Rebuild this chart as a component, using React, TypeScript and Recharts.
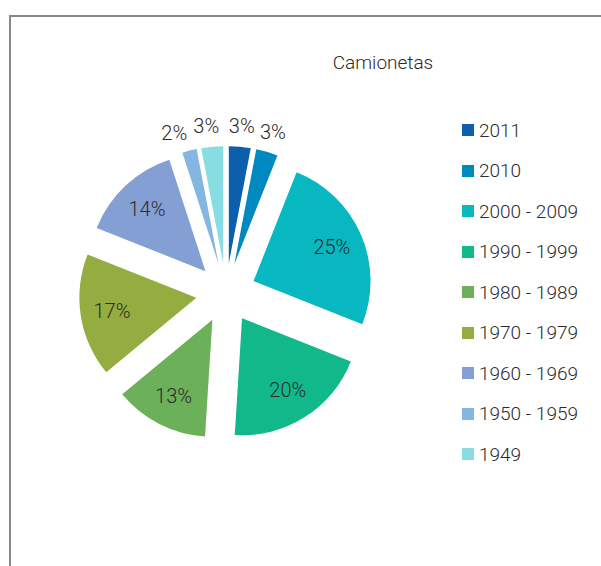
import React from 'react';
import { PieChart, Pie, Cell, Sector, Legend } from 'recharts';

// Antigüedad del parque de camionetas (% por periodo)
const periods = [
  '2011',
  '2010',
  '2000 - 2009',
  '1990 - 1999',
  '1980 - 1989',
  '1970 - 1979',
  '1960 - 1969',
  '1950 - 1959',
  '1949',
];
const shares = [3, 3, 25, 20, 13, 17, 14, 2, 3];
const colors = [
  '#0b5fad',
  '#0088c0',
  '#07b8c0',
  '#10b88a',
  '#6cb15a',
  '#95ac40',
  '#849fd4',
  '#83b6e0',
  '#87dde1',
];

const data = periods.map((p, i) => ({ name: p, value: shares[i] }));

const FONT = 'Roboto, "Open Sans", sans-serif';
const TEXT = '#2b2b2b';
const RAD = Math.PI / 180;
const EXPLODE = 30;

// desplaza cada porción hacia fuera según su ángulo medio
const explode = (midAngle: number) => ({
  dx: EXPLODE * Math.cos(-midAngle * RAD),
  dy: EXPLODE * Math.sin(-midAngle * RAD),
});

const ExplodedSlice = (props: any) => {
  const { dx, dy } = explode(props.midAngle);
  return <Sector {...props} cx={props.cx + dx} cy={props.cy + dy} stroke="none" />;
};

const renderLabel = (props: any) => {
  const { cx, cy, midAngle, outerRadius, percent } = props;
  const { dx, dy } = explode(midAngle);
  const outside = percent < 0.05;
  const r = outside ? outerRadius + 21 : outerRadius * 0.73;
  // las etiquetas pequeñas a la izquierda de las 12 se abren un poco para no pisarse
  const angle = outside && midAngle < -180 ? midAngle + (midAngle + 270) * 0.3 : midAngle;
  const x = cx + dx + r * Math.cos(-angle * RAD);
  const y = cy + dy + r * Math.sin(-angle * RAD);
  return (
    <text
      x={x}
      y={y}
      textAnchor="middle"
      dominantBaseline="central"
      fill={TEXT}
      fontSize={20}
      fontWeight={300}
      fontFamily={FONT}
    >
      {`${Math.round(percent * 100)}%`}
    </text>
  );
};

const renderLegend = () => (
  <div style={{ fontFamily: FONT, fontSize: 19, fontWeight: 300, color: TEXT }}>
    {periods.map((p, i) => (
      <div key={p} style={{ height: 40.5, display: 'flex', alignItems: 'center' }}>
        <span
          style={{
            display: 'inline-block',
            width: 12,
            height: 12,
            background: colors[i],
            marginRight: 5,
          }}
        />
        <span>{p}</span>
      </div>
    ))}
  </div>
);

const App = () => {
  return (
    <div style={{ position: 'absolute', left: 0, top: 0, width: 601, height: 566, background: '#fff' }}>
      <div
        style={{
          position: 'absolute',
          left: 9,
          top: 15,
          right: 0,
          bottom: 0,
          borderLeft: '2px solid #888',
          borderTop: '2px solid #888',
        }}
      />
      <div
        style={{
          position: 'absolute',
          left: 0,
          top: 51,
          width: 766,
          textAlign: 'center',
          fontFamily: FONT,
          fontSize: 19,
          fontWeight: 300,
          color: TEXT,
        }}
      >
        Camionetas
      </div>
      <PieChart width={601} height={566} style={{ position: 'absolute', left: 0, top: 0 }}>
        <Pie
          data={data}
          dataKey="value"
          nameKey="name"
          cx={221}
          cy={288}
          outerRadius={117}
          startAngle={90}
          endAngle={-270}
          stroke="none"
          shape={ExplodedSlice}
          label={renderLabel}
          labelLine={false}
          isAnimationActive={false}
        >
          {data.map((d, i) => (
            <Cell key={d.name} fill={colors[i]} />
          ))}
        </Pie>
        <Legend
          layout="vertical"
          content={renderLegend}
          wrapperStyle={{ position: 'absolute', left: 462, top: 110, width: 139 }}
        />
      </PieChart>
    </div>
  );
};

export default App;
